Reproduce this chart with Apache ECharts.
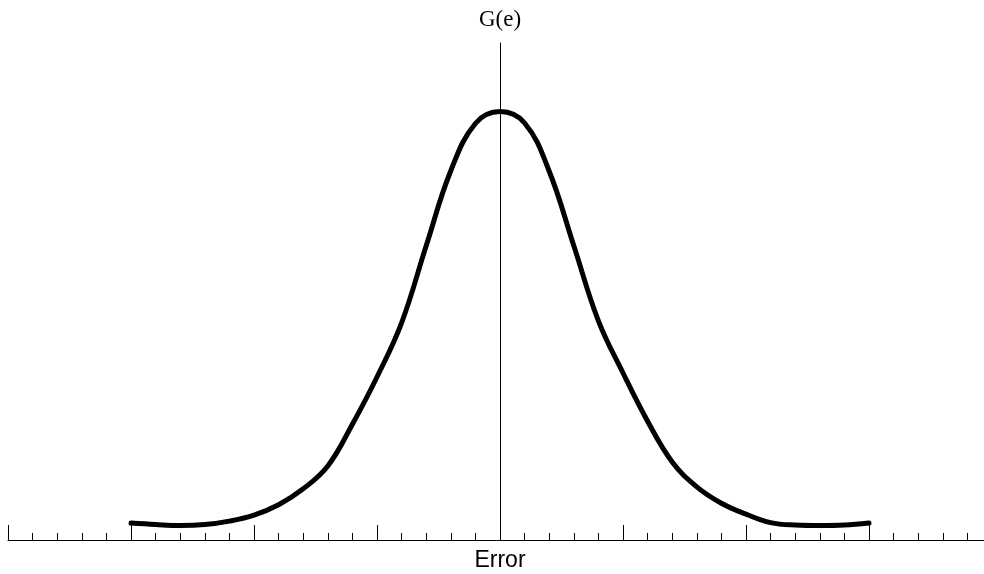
<!DOCTYPE html>
<html>
<head>
<meta charset="utf-8">
<script src="https://cdn.jsdelivr.net/npm/echarts@6/dist/echarts.min.js"></script>
<style>
  html, body { margin: 0; padding: 0; background: #fff; }
  #chart { width: 984px; height: 574px; }
</style>
</head>
<body>
<div id="chart"></div>
<script>
  // error values (x) and G(e), every 0.2
  const errorValues = [-3, -2.8, -2.6, -2.4, -2.2, -2, -1.8, -1.6, -1.4, -1.2, -1, -0.8, -0.6, -0.4, -0.2, 0,
                       0.2, 0.4, 0.6, 0.8, 1, 1.2, 1.4, 1.6, 1.8, 2, 2.2, 2.4, 2.6, 2.8, 3]
  const gValues = [0.034, 0.031, 0.029, 0.031, 0.038, 0.050, 0.071, 0.103, 0.149, 0.233, 0.328, 0.437, 0.592, 0.743, 0.838, 0.862,
                   0.839, 0.742, 0.592, 0.441, 0.336, 0.239, 0.157, 0.107, 0.074, 0.052, 0.035, 0.030, 0.029, 0.030, 0.034]

  const chart = echarts.init(document.getElementById('chart'))

  const option = {
    animation: false,
    grid: {
      left: 8,
      top: 43,
      bottom: 34,
      width: 984,
      outerBoundsMode: 'none'
    },
    xAxis: {
      type: 'value',
      min: -4,
      max: 4,
      interval: 1,
      name: 'Error',
      nameLocation: 'middle',
      nameGap: 21,
      nameTextStyle: {
        fontFamily: 'Liberation Sans',
        fontSize: 23,
        color: '#000',
        verticalAlign: 'middle'
      },
      axisLine: { onZero: false, lineStyle: { color: '#000', width: 1 } },
      axisTick: { inside: true, length: 15, lineStyle: { color: '#000', width: 1 } },
      minorTick: { show: true, splitNumber: 5, length: 7, lineStyle: { color: '#000', width: 1 } },
      axisLabel: { show: false },
      splitLine: { show: false }
    },
    yAxis: {
      type: 'value',
      min: 0,
      max: 1,
      name: 'G(e)',
      nameLocation: 'end',
      nameGap: 23,
      nameTextStyle: {
        fontFamily: 'Liberation Serif',
        fontSize: 23,
        color: '#000',
        align: 'center',
        verticalAlign: 'middle'
      },
      axisLine: { show: true, onZero: true, lineStyle: { color: '#000', width: 1 } },
      axisTick: { show: false },
      axisLabel: { show: false },
      splitLine: { show: false }
    },
    series: [
      {
        type: 'line',
        data: errorValues.map((e, i) => [e, gValues[i]]),
        smooth: 0.4,
        showSymbol: false,
        lineStyle: { color: '#000', width: 5, cap: 'round' }
      }
    ]
  }

  chart.setOption(option)
</script>
</body>
</html>
